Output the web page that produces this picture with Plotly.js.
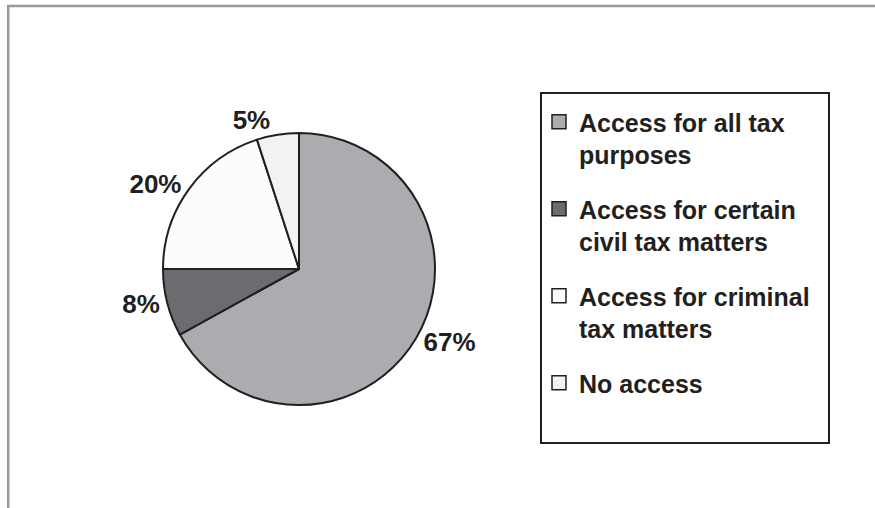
<!DOCTYPE html>
<html>
<head>
<meta charset="utf-8">
<script src="https://cdn.plot.ly/plotly-3.0.1.min.js"></script>
<style>html,body{margin:0;padding:0;background:#fff;}#chart{width:875px;height:508px;}</style>
</head>
<body>
<div id="chart"></div>
<script>
const categories = ["Access for all tax purposes", "Access for certain civil tax matters", "Access for criminal tax matters", "No access"];
const legendLabels = ["Access for all tax<br>purposes", "Access for certain<br>civil tax matters", "Access for criminal<br>tax matters", "No access"];
const shares = [67, 8, 20, 5];
const sliceColors = ["#abacb0", "#6b6c70", "#fcfcfc", "#f1f3f3"];

const W = 875, H = 508;
const ink = "#231f20";
const fontFam = "Liberation Sans, Arial, Helvetica, sans-serif";

const traces = [{
  type: "pie",
  labels: categories,
  values: shares,
  sort: false,
  direction: "clockwise",
  rotation: 0,
  showlegend: false,
  textinfo: "percent",
  textposition: "outside",
  textfont: {family: fontFam, size: 26, color: ink, weight: "bold"},
  marker: {colors: sliceColors, line: {color: ink, width: 2}},
  domain: {x: [163 / W, 435 / W], y: [1 - 405 / H, 1 - 133 / H]},
  hoverinfo: "label+percent"
}];

legendLabels.forEach((lab, i) => {
  traces.push({
    type: "scatter",
    mode: "markers",
    x: [null], y: [null],
    name: lab,
    legendgroup: "g" + i,
    showlegend: true,
    marker: {symbol: "square", size: 14, color: sliceColors[i], line: {color: ink, width: 1.5}},
    hoverinfo: "skip"
  });
});

const layout = {
  width: W, height: H,
  margin: {l: 0, r: 0, t: 0, b: 0},
  paper_bgcolor: "#ffffff",
  plot_bgcolor: "rgba(0,0,0,0)",
  xaxis: {visible: false, domain: [0.99, 1]},
  yaxis: {visible: false, domain: [0.99, 1]},
  showlegend: true,
  legend: {
    x: 539 / W, xanchor: "left",
    y: 1 - 99 / H, yanchor: "top",
    bgcolor: "rgba(0,0,0,0)",
    borderwidth: 0,
    font: {family: fontFam, size: 25, color: ink, weight: "bold"},
    traceorder: "grouped",
    tracegroupgap: 19,
    valign: "top",
    itemclick: false, itemdoubleclick: false
  },
  shapes: [
    {type: "rect", xref: "paper", yref: "paper", x0: 541 / W, x1: 829 / W, y0: 1 - 93 / H, y1: 1 - 443 / H, line: {color: ink, width: 2}, fillcolor: "rgba(0,0,0,0)"},
    {type: "line", xref: "paper", yref: "paper", x0: 7 / W, x1: 1, y0: 1 - 6 / H, y1: 1 - 6 / H, line: {color: "#999999", width: 2.5}},
    {type: "line", xref: "paper", yref: "paper", x0: 8.2 / W, x1: 8.2 / W, y0: 1 - 6 / H, y1: 0, line: {color: "#999999", width: 2.5}}
  ]
};

Plotly.newPlot("chart", traces, layout, {displayModeBar: false, staticPlot: false});
</script>
</body>
</html>
